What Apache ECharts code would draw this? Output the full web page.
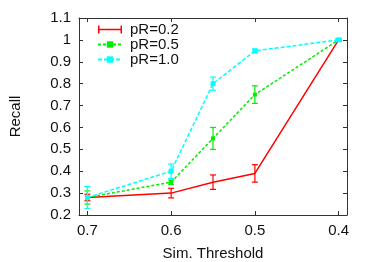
<!DOCTYPE html>
<html><head><meta charset="utf-8">
<script src="https://cdn.jsdelivr.net/npm/echarts@6/dist/echarts.min.js"></script>
<style>html,body{margin:0;padding:0;background:#fff}#c{width:374px;height:262px}</style>
</head><body><div id="c"></div>
<script>
const thresholds = [0.7, 0.6, 0.55, 0.5, 0.4];
const xTickValues = [0.7, 0.6, 0.5, 0.4];
const seriesNames = ['pR=0.2', 'pR=0.5', 'pR=1.0'];
const recall02 = [0.28, 0.30, 0.35, 0.39, 1.0];
const err02 = [0.015, 0.022, 0.033, 0.04, 0.005];
const recall05 = [0.28, 0.35, 0.55, 0.75, 1.0];
const err05 = [0.03, 0.01, 0.05, 0.04, 0.005];
const recall10 = [0.28, 0.40, 0.80, 0.95, 1.0];
const err10 = [0.05, 0.033, 0.03, 0.008, 0.005];

const colors = ['#ff0000', '#00ee00', '#00ffff'];
const values = [recall02, recall05, recall10];
const errs = [err02, err05, err10];
const lineTypes = ['solid', [3, 2], [4, 2]];
const symbols = ['none', 'rect', 'rect'];
const symSizes = [0, 4, 5];

const font = 'Liberation Sans, Arial, sans-serif';
const fs = 15;
const series = [];
values.forEach((vals, i) => {
  series.push({
    name: seriesNames[i], type: 'line', xAxisIndex: 0, yAxisIndex: 0,
    data: thresholds.map((t, k) => [t, vals[k]]),
    symbol: symbols[i], symbolSize: symSizes[i], showSymbol: true,
    lineStyle: {color: colors[i], width: 1.5, type: lineTypes[i]},
    itemStyle: {color: colors[i]}, z: 3 + i, animation: false
  });
  series.push({
    name: seriesNames[i] + ' err', type: 'custom', xAxisIndex: 0, yAxisIndex: 0,
    data: thresholds.map((t, k) => [t, vals[k] - errs[i][k], vals[k] + errs[i][k]]),
    encode: {x: 0, y: [1, 2]}, z: 3 + i, animation: false, silent: true,
    renderItem: function (params, api) {
      const lo = api.coord([api.value(0), api.value(1)]);
      const hi = api.coord([api.value(0), api.value(2)]);
      const w = 3;
      const st = {stroke: colors[i], lineWidth: 1.2};
      return {type: 'group', children: [
        {type: 'line', shape: {x1: lo[0], y1: lo[1], x2: hi[0], y2: hi[1]}, style: st},
        {type: 'line', shape: {x1: lo[0] - w, y1: lo[1], x2: lo[0] + w, y2: lo[1]}, style: st},
        {type: 'line', shape: {x1: hi[0] - w, y1: hi[1], x2: hi[0] + w, y2: hi[1]}, style: st}
      ]};
    }
  });
});

const axisLine = {show: true, lineStyle: {color: '#333', width: 1}};
const xCommon = {
  type: 'value', min: 0.39, max: 0.71, inverse: true,
  axisLine: axisLine, splitLine: {show: false},
  axisTick: {show: true, inside: true, length: 4, customValues: xTickValues, lineStyle: {color: '#333'}}
};
const yCommon = {
  type: 'value', min: 0.2, max: 1.1, interval: 0.1,
  axisLine: axisLine, splitLine: {show: false},
  axisTick: {show: true, inside: true, length: 4, lineStyle: {color: '#333'}}
};
const capIcon = 'path://M0,0h1.5v8h-1.5z M0,3.3h24v1.4h-24z M22.5,0h1.5v8h-1.5z';

const chart = echarts.init(document.getElementById('c'));
chart.setOption({
  animation: false,
  grid: {left: 79, right: 27, top: 18, bottom: 47, containLabel: false, outerBoundsMode: 'none'},
  legend: {
    data: [{name: seriesNames[0], icon: capIcon}, {name: seriesNames[1]}, {name: seriesNames[2]}],
    orient: 'vertical', left: 97, top: 22, padding: 0,
    itemWidth: 24, itemHeight: 8, itemGap: 0,
    textStyle: {fontFamily: font, fontSize: fs, color: '#111', padding: [0, 0, 0, 3]}
  },
  xAxis: [
    Object.assign({}, xCommon, {position: 'bottom',
      name: 'Sim. Threshold', nameLocation: 'middle', nameGap: 31,
      nameTextStyle: {fontFamily: font, fontSize: fs, color: '#111'},
      axisLabel: {show: true, customValues: xTickValues, margin: 8, fontFamily: font, fontSize: fs, color: '#111',
        formatter: v => v.toFixed(1)}}),
    Object.assign({}, xCommon, {position: 'top', axisLabel: {show: false}})
  ],
  yAxis: [
    Object.assign({}, yCommon, {position: 'left',
      name: 'Recall', nameLocation: 'middle', nameGap: 56, nameRotate: 90,
      nameTextStyle: {fontFamily: font, fontSize: fs, color: '#111'},
      axisLabel: {show: true, margin: 8, fontFamily: font, fontSize: fs, color: '#111',
        formatter: v => (Math.abs(v - 1) < 1e-9 ? '1' : v.toFixed(1))}}),
    Object.assign({}, yCommon, {position: 'right', axisLabel: {show: false}})
  ],
  series: series
});
</script></body></html>
